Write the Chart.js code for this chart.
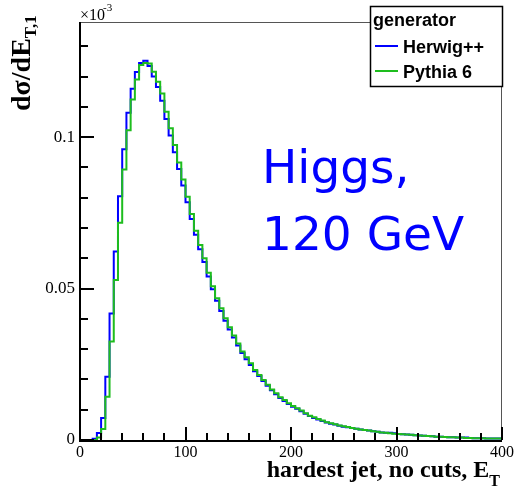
<!DOCTYPE html>
<html>
<head>
<meta charset="utf-8">
<script src="https://cdn.jsdelivr.net/npm/chart.js@4.4.1/dist/chart.umd.min.js"></script>
<style>
html,body{margin:0;padding:0;background:#fff;}
#wrap{width:518px;height:490px;position:relative;}
canvas{display:block;}
</style>
</head>
<body>
<div id="wrap"><canvas id="c" width="518" height="490"></canvas></div>
<script>
// Bin lower edges (GeV), bin width 4 GeV, upper edge of last bin = 400
const binEdges = [0,4,8,12,16,20,24,28,32,36,40,44,48,52,56,60,64,68,72,76,80,84,88,92,96,100,104,108,112,116,120,124,128,132,136,140,144,148,152,156,160,164,168,172,176,180,184,188,192,196,200,204,208,212,216,220,224,228,232,236,240,244,248,252,256,260,264,268,272,276,280,284,288,292,296,300,304,308,312,316,320,324,328,332,336,340,344,348,352,356,360,364,368,372,376,380,384,388,392,396,400];

// dσ/dE_T,1 in units of 1e-3
const herwig = [0,0,0,0,0.0004,0.0023,0.0073,0.0209,0.0418,0.0622,
  0.0805,0.0960,0.1080,0.1160,0.1215,0.1245,0.1252,0.1235,0.1200,0.1165,
  0.1120,0.1060,0.1005,0.0950,0.0895,0.0840,0.0785,0.0730,0.0678,0.0630,
  0.0588,0.0540,0.0498,0.0460,0.0426,0.0394,0.0365,0.0338,0.0312,0.0287,
  0.0267,0.0248,0.0227,0.0211,0.0195,0.0179,0.0164,0.0151,0.0139,0.0129,
  0.0119,0.0110,0.0103,0.0095,0.0087,0.0079,0.0073,0.0068,0.0063,0.0058,
  0.0054,0.0051,0.0047,0.0044,0.0042,0.0040,0.0037,0.0035,0.0033,0.0031,
  0.0029,0.0027,0.0025,0.0024,0.0024,0.0022,0.0020,0.0019,0.0018,0.0017,
  0.0016,0.0015,0.0014,0.0013,0.0012,0.0011,0.0011,0.0010,0.0009,0.0009,
  0.0008,0.0008,0.0008,0.0007,0.0006,0.0006,0.0006,0.0005,0.0005,0.0005];

const pythia = [0,0,0,0,0,0.0008,0.0036,0.0143,0.0325,0.0528,
  0.0717,0.0893,0.1023,0.1124,0.1190,0.1238,0.1245,0.1243,0.1216,0.1183,
  0.1144,0.1084,0.1029,0.0974,0.0916,0.0860,0.0803,0.0746,0.0691,0.0644,
  0.0600,0.0552,0.0508,0.0468,0.0435,0.0402,0.0372,0.0345,0.0319,0.0292,
  0.0273,0.0253,0.0231,0.0215,0.0198,0.0182,0.0167,0.0154,0.0141,0.0132,
  0.0121,0.0112,0.0105,0.0097,0.0088,0.0080,0.0075,0.0069,0.0064,0.0059,
  0.0055,0.0052,0.0048,0.0045,0.0043,0.0040,0.0037,0.0035,0.0033,0.0031,
  0.0029,0.0027,0.0025,0.0024,0.0022,0.0021,0.0020,0.0019,0.0018,0.0017,
  0.0016,0.0015,0.0014,0.0013,0.0012,0.0011,0.0011,0.0010,0.0009,0.0009,
  0.0008,0.0008,0.0007,0.0007,0.0006,0.0006,0.0006,0.0005,0.0005,0.0005];

const seriesNames = ['Herwig++', 'Pythia 6'];
const xTicks = [0, 100, 200, 300, 400];
const yTicks = [0, 0.05, 0.1];
const legendTitle = 'generator';
const annotationLines = ['Higgs,', '120 GeV'];

function histPoints(vals){
  const pts = vals.map((v,i)=>({x: binEdges[i], y: v}));
  pts.push({x: binEdges[vals.length], y: vals[vals.length-1]});
  return pts;
}

const SERIF = '"Liberation Serif", "Times New Roman", serif';

const overlay = {
  id: 'overlay',
  afterDatasetsDraw(chart){
    const ctx = chart.ctx, ca = chart.chartArea;
    const xs = chart.scales.x, ys = chart.scales.y;
    ctx.save();
    // frame top/right
    ctx.strokeStyle = '#555'; ctx.lineWidth = 1;
    ctx.beginPath();
    ctx.moveTo(ca.left, ca.top+0.5); ctx.lineTo(ca.right-0.5, ca.top+0.5); ctx.lineTo(ca.right-0.5, ca.bottom);
    ctx.stroke();
    // inward ticks
    ctx.strokeStyle = '#000'; ctx.lineWidth = 2;
    ctx.beginPath();
    for(let v=0; v<=400.001; v+=20){
      const px = Math.round(xs.getPixelForValue(v));
      const len = (Math.abs(v % 100) < 1e-6) ? 13 : 7;
      ctx.moveTo(px, ca.bottom); ctx.lineTo(px, ca.bottom - len);
    }
    for(let i=0; i<=13; i++){
      const v = i*0.01;
      const py = Math.round(ys.getPixelForValue(v));
      const len = (i % 5 === 0) ? 14 : 8;
      ctx.moveTo(ca.left, py); ctx.lineTo(ca.left + len, py);
    }
    ctx.stroke();
    // axes
    ctx.lineWidth = 2;
    ctx.beginPath();
    ctx.moveTo(ca.left, ca.top); ctx.lineTo(ca.left, ca.bottom+1); ctx.lineTo(ca.right, ca.bottom+1);
    ctx.stroke();
    ctx.restore();
  },
  afterDraw(chart){
    const ctx = chart.ctx, ca = chart.chartArea;
    ctx.save();
    // legend box
    const lx = 370, ly = 6, lw = 132, lh = 80;
    ctx.fillStyle = '#fff'; ctx.fillRect(lx, ly, lw, lh);
    ctx.strokeStyle = '#000'; ctx.lineWidth = 1.5;
    ctx.strokeRect(lx+0.5, ly+0.5, lw, lh);
    ctx.fillStyle = '#000';
    ctx.font = 'bold 18px "Liberation Sans", Arial, sans-serif';
    ctx.textBaseline = 'alphabetic'; ctx.textAlign = 'left';
    ctx.fillText(legendTitle, lx+3, ly+20);
    chart.data.datasets.forEach((ds, i) => {
      const yy = ly + 40 + i*25;
      ctx.strokeStyle = ds.borderColor; ctx.lineWidth = 2;
      ctx.beginPath(); ctx.moveTo(lx+5, yy); ctx.lineTo(lx+28, yy); ctx.stroke();
      ctx.fillStyle = '#000';
      ctx.fillText(ds.label, lx+33, yy+7);
    });
    // annotation
    ctx.fillStyle = '#0000ff';
    ctx.font = '47px "DejaVu Sans", Verdana, sans-serif';
    ctx.fillText(annotationLines[0], 262, 183);
    ctx.fillText(annotationLines[1], 262, 250);
    // x10^-3
    ctx.fillStyle = '#000';
    ctx.font = '16px ' + SERIF;
    ctx.fillText('\u00d710', 80, 20);
    ctx.font = '11px ' + SERIF;
    ctx.fillText('-3', 103, 11);
    // x title
    ctx.textAlign = 'right';
    ctx.font = 'bold 16px ' + SERIF;
    const sw = ctx.measureText('T').width;
    ctx.fillText('T', 500, 486);
    ctx.font = 'bold 24px ' + SERIF;
    ctx.fillText('hardest jet, no cuts, E', 500 - sw, 477);
    // y title (rotated)
    ctx.save();
    ctx.translate(30, 111);
    ctx.rotate(-Math.PI/2);
    ctx.textAlign = 'left';
    ctx.font = 'bold 28px ' + SERIF;
    const main = 'd\u03c3/dE';
    ctx.fillText(main, 0, 0);
    const mw = ctx.measureText(main).width;
    ctx.font = 'bold 17px ' + SERIF;
    ctx.fillText('T,1', mw, 6);
    ctx.restore();
    ctx.restore();
  }
};

new Chart(document.getElementById('c'), {
  type: 'line',
  data: {
    datasets: [
      { label: seriesNames[0], data: histPoints(herwig), borderColor: '#0000ff', borderWidth: 2, stepped: 'after', pointRadius: 0, fill: false, order: 1 },
      { label: seriesNames[1], data: histPoints(pythia), borderColor: '#1ebd1e', borderWidth: 2, stepped: 'after', pointRadius: 0, fill: false, order: 0 }
    ]
  },
  options: {
    responsive: false,
    animation: false,
    events: [],
    layout: { padding: { top: 22, right: 16, left: 0, bottom: 0 } },
    plugins: { legend: { display: false }, tooltip: { enabled: false } },
    scales: {
      x: {
        type: 'linear', min: 0, max: 400,
        afterBuildTicks: s => { s.ticks = xTicks.map(v => ({value: v})); },
        afterFit: s => { s.height = 50; },
        grid: { display: false, drawTicks: false },
        border: { display: false },
        ticks: { color: '#000', padding: 3, maxRotation: 0, font: { family: SERIF, size: 16 } }
      },
      y: {
        type: 'linear', min: 0, max: 0.138,
        afterBuildTicks: s => { s.ticks = yTicks.map(v => ({value: v})); },
        afterFit: s => { s.width = 80; },
        grid: { display: false, drawTicks: false },
        border: { display: false },
        ticks: { color: '#000', padding: 5, font: { family: SERIF, size: 17 },
                 callback: v => String(v) }
      }
    }
  },
  plugins: [overlay]
});
</script>
</body>
</html>
